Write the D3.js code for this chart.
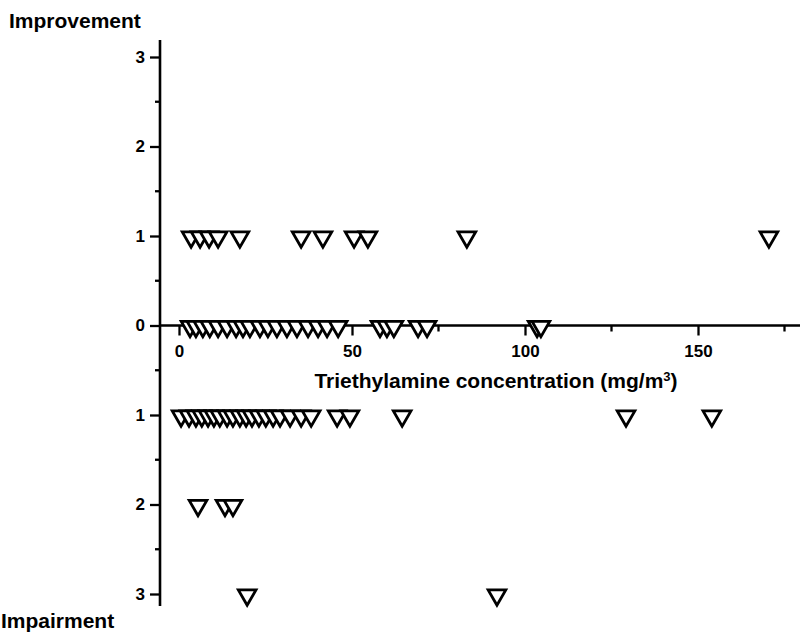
<!DOCTYPE html>
<html>
<head>
<meta charset="utf-8">
<script src="https://d3js.org/d3.v7.min.js"></script>
<style>
  body { margin: 0; background: #fff; }
  text { font-family: "Liberation Sans", Arial, sans-serif; fill: #000; }
</style>
</head>
<body>
<div id="chart"></div>
<script>

// concentrations (mg/m3) grouped by change score
var score1 = [3.5, 6.1, 8.7, 11.3, 17.6, 35.3, 41.6, 50.6, 54.6, 83.2, 170.5]
var score0 = [3.2, 4.9, 6.9, 8.9, 11.3, 13.9, 16.5, 18.5, 20.5, 23.4, 25.7, 28.3, 31.2, 34.1, 37.3,
              40.2, 42.8, 46.0, 58.1, 60.1, 62.1, 69.1, 71.7, 103.5, 104.6]
var scoreM1 = [0.6, 2.9, 4.9, 6.6, 8.4, 10.1, 11.8, 13.9, 15.6, 17.6, 19.4, 21.1, 23.1, 25.1, 27.2,
               29.2, 32.1, 35.3, 38.2, 45.7, 49.4, 64.5, 129.2, 154.0]
var scoreM2 = [5.5, 13.3, 15.6]
var scoreM3 = [19.7, 91.9]

var yTicks = [-3, -2, -1, 0, 1, 2, 3]
var xTicks = [0, 50, 100, 150]
var xMinor = [25, 75, 125, 175]

var width = 800
var height = 633

var points = []
;[[1, score1], [0, score0], [-1, scoreM1], [-2, scoreM2], [-3, scoreM3]].forEach(function (g) {
  g[1].forEach(function (c) { points.push({ conc: c, score: g[0] }) })
})

var x = d3.scaleLinear().domain([0, 175]).range([179, 784.5])
var y = d3.scaleLinear().domain([-3, 3]).range([594, 57])
var axisX = 160

var svg = d3.select("#chart").append("svg")
  .attr("width", width)
  .attr("height", height)

// y axis
var gy = svg.append("g")
  .attr("transform", "translate(" + axisX + ",0)")
  .call(d3.axisLeft(y).tickValues(yTicks).tickSize(10).tickPadding(5)
    .tickFormat(function (d) { return Math.abs(d) }))
gy.select(".domain").remove()
gy.append("line")
  .attr("x1", 0).attr("x2", 0)
  .attr("y1", 40).attr("y2", 606)
  .attr("stroke", "#000").attr("stroke-width", 2.6)
gy.selectAll(".tick line").attr("stroke-width", 2.3)
gy.selectAll(".tick text").style("font-size", "17px").style("font-weight", "bold")
gy.selectAll(".minor")
  .data([-2.5, -1.5, -0.5, 0.5, 1.5, 2.5])
  .enter().append("line")
  .attr("x1", -5).attr("x2", 0)
  .attr("y1", function (d) { return y(d) })
  .attr("y2", function (d) { return y(d) })
  .attr("stroke", "#000").attr("stroke-width", 2.3)

// x axis along zero
var gx = svg.append("g")
  .attr("transform", "translate(0," + y(0) + ")")
  .call(d3.axisBottom(x).tickValues(xTicks).tickSize(10).tickPadding(9))
gx.select(".domain").remove()
gx.append("line")
  .attr("x1", axisX).attr("x2", width)
  .attr("y1", 0).attr("y2", 0)
  .attr("stroke", "#000").attr("stroke-width", 2.6)
gx.selectAll(".tick line").attr("stroke-width", 2.3)
gx.selectAll(".tick text").style("font-size", "17px").style("font-weight", "bold")
gx.selectAll(".minor")
  .data(xMinor)
  .enter().append("line")
  .attr("x1", function (d) { return x(d) })
  .attr("x2", function (d) { return x(d) })
  .attr("y1", 0).attr("y2", 6)
  .attr("stroke", "#000").attr("stroke-width", 2.3)

var xl = svg.append("text")
  .attr("x", 496).attr("y", y(0) + 62)
  .attr("text-anchor", "middle")
  .style("font-size", "21px").style("font-weight", "bold")
  .text("Triethylamine concentration (mg/m")
xl.append("tspan").attr("baseline-shift", "super").style("font-size", "13px").text("3")
xl.append("tspan").text(")")

svg.append("text").attr("x", 9).attr("y", 28)
  .style("font-size", "21px").style("font-weight", "bold").text("Improvement")
svg.append("text").attr("x", 1).attr("y", 628)
  .style("font-size", "21px").style("font-weight", "bold").text("Impairment")

// open downward triangles
var tri = d3.symbol().type(d3.symbolTriangle).size(135)
svg.append("g").selectAll("path")
  .data(points)
  .enter().append("path")
  .attr("d", tri)
  .attr("transform", function (d) {
    return "translate(" + x(d.conc) + "," + (y(d.score) + 1) + ") rotate(180)"
  })
  .attr("fill", "#fff")
  .attr("stroke", "#000")
  .attr("stroke-width", 2.8)

</script>
</body>
</html>
